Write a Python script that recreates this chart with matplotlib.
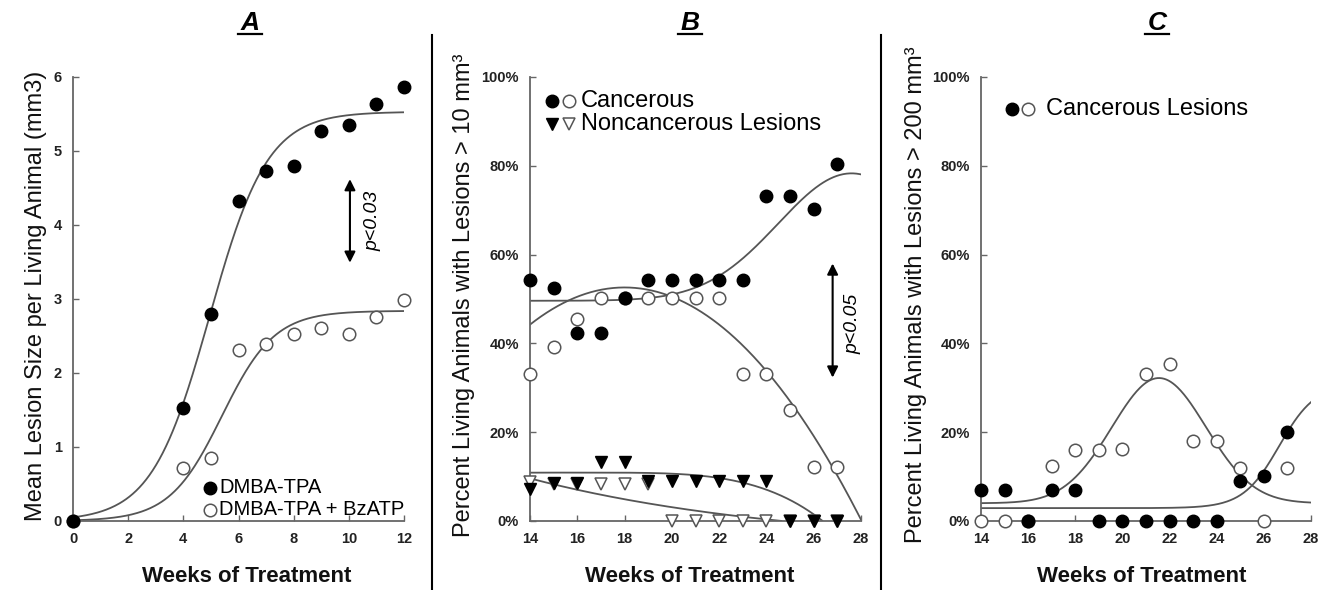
import numpy as np
import matplotlib
matplotlib.use("Agg")
import matplotlib.pyplot as plt
from matplotlib.lines import Line2D

plt.rcParams['font.family'] = ['Liberation Sans', 'DejaVu Sans']

# ---- data ----
# Panel A: mean lesion size per living animal (mm3)
weeks_a = [0, 4, 5, 6, 7, 8, 9, 10, 11, 12]
a_tpa = [0, 1.53, 2.80, 4.33, 4.73, 4.80, 5.27, 5.35, 5.64, 5.86]
a_bzatp = [0, 0.72, 0.85, 2.31, 2.39, 2.53, 2.61, 2.53, 2.76, 2.98]

# Panels B and C: weeks 14-27
weeks_bc = [14, 15, 16, 17, 18, 19, 20, 21, 22, 23, 24, 25, 26, 27]
# B: % living animals with lesions > 10 mm3
b_canc_tpa = [54.3, 52.4, 42.3, 42.3, 50.3, 54.3, 54.3, 54.3, 54.3, 54.3, 73.2, 73.2, 70.2, 80.3]
b_canc_bz = [33.0, 39.1, 45.4, 50.3, 50.3, 50.3, 50.3, 50.3, 50.3, 33.0, 33.0, 24.9, 12.1, 12.1]
b_non_tpa = [7.3, 8.5, 8.5, 13.2, 13.2, 9.1, 9.1, 9.1, 9.1, 9.1, 9.1, 0, 0, 0]
b_non_bz = [8.8, 8.3, 8.3, 8.3, 8.3, 8.3, 0, 0, 0, 0, 0, 0, 0, 0]
# C: % living animals with lesions > 200 mm3
c_canc_tpa = [6.9, 6.9, 0, 6.9, 6.9, 0, 0, 0, 0, 0, 0, 9.1, 10.1, 20.1]
c_canc_bz = [0, 0, 0, 12.5, 16.1, 16.1, 16.3, 33.2, 35.3, 18.1, 18.1, 12.0, 0, 12.0]

a_tpa_fit = dict(top=5.53, mid=4.95, rate=0.95)      # logistic
a_bz_fit = dict(top=2.84, mid=5.40, rate=1.05)       # logistic
b_tpa_fit = dict(base=49.6, amp=28.7, mid=27.6, sd=3.1)   # baseline + gaussian
b_bz_fit = dict(peak=52.6, at=18.0, curv=0.523)      # parabola
b_non_tpa_fit = dict(top=10.9, at=16.0, k=0.00094)   # quartic drop
b_non_bz_fit = dict(a=15.56, k=0.09, c=-5.96)        # exp decay
c_bz_fit = dict(base=4.0, amp=28.2, mid=21.55, sd=2.0)
c_tpa_fit = dict(base=2.9, top=28.0, mid=26.65, rate=1.3)

W, H = 1327, 590
fig = plt.figure(figsize=(W / 100, H / 100), dpi=100)

def px_axes(x0, x1, y_top, y_bot):
    return fig.add_axes([x0 / W, 1 - y_bot / H, (x1 - x0) / W, (y_bot - y_top) / H])

def ftext(x, y, s, **kw):
    fig.text(x / W, 1 - y / H, s, **kw)

ax_a = px_axes(73, 404, 77, 521)
ax_b = px_axes(530, 861, 77, 521)
ax_c = px_axes(981, 1311, 77, 521)

spine_col = '#666666'
line_col = '#555555'
tick_font = dict(fontweight='bold', fontsize=10.5, color='#222222')

for ax in (ax_a, ax_b, ax_c):
    for s in ('top', 'right'):
        ax.spines[s].set_visible(False)
    for s in ('left', 'bottom'):
        ax.spines[s].set_color(spine_col)
        ax.spines[s].set_linewidth(1.3)
    ax.tick_params(direction='in', length=4, width=1, color=spine_col, pad=8)

ax_a.set_xlim(0, 12)
ax_a.set_ylim(0, 6)
ax_a.set_xticks(range(0, 13, 2), labels=[str(v) for v in range(0, 13, 2)], **tick_font)
ax_a.set_yticks(range(0, 7), labels=[str(v) for v in range(0, 7)], **tick_font)
for ax in (ax_b, ax_c):
    ax.set_xlim(14, 28)
    ax.set_ylim(0, 100)
    ax.set_xticks(range(14, 29, 2), labels=[str(v) for v in range(14, 29, 2)], **tick_font)
    ax.set_yticks(range(0, 101, 20), labels=[f'{v}%' for v in range(0, 101, 20)], **tick_font)

ms = 9
open_c = dict(marker='o', ms=ms, mfc='white', mec=line_col, mew=1.1, ls='none', clip_on=False, zorder=3)
fill_c = dict(marker='o', ms=ms, mfc='black', mec='black', ls='none', clip_on=False, zorder=4)
open_t = dict(marker='v', ms=8.5, mfc='white', mec=line_col, mew=1.1, ls='none', clip_on=False, zorder=3)
fill_t = dict(marker='v', ms=8.5, mfc='black', mec='black', ls='none', clip_on=False, zorder=4)
fit_kw = dict(color=line_col, lw=1.3, zorder=2)
arrow_kw = dict(arrowstyle='<|-|>', color='black', lw=1.5, mutation_scale=16, shrinkA=0, shrinkB=0)

def logistic(x, p):
    return p['top'] / (1 + np.exp(-p['rate'] * (x - p['mid'])))

# ---- Panel A ----
xa = np.linspace(0, 12, 300)
ax_a.plot(xa, logistic(xa, a_tpa_fit), **fit_kw)
ax_a.plot(xa, logistic(xa, a_bz_fit), **fit_kw)
ax_a.plot(weeks_a, a_bzatp, **open_c)
ax_a.plot(weeks_a, a_tpa, **fill_c)
ax_a.annotate('', xy=(10.04, 4.62), xytext=(10.04, 3.49), arrowprops=arrow_kw)
ax_a.text(10.88, 4.05, 'p<0.03', rotation=90, fontstyle='italic', fontsize=14,
          ha='center', va='center')
ax_a.plot([4.97], [0.446], **fill_c)
ax_a.plot([4.97], [0.151], **open_c)
ax_a.text(5.30, 0.446, 'DMBA-TPA', fontsize=14.5, va='center')
ax_a.text(5.30, 0.151, 'DMBA-TPA + BzATP', fontsize=14.5, va='center')

# ---- Panel B ----
xb = np.linspace(14, 28, 300)
p = b_tpa_fit
ax_b.plot(xb, p['base'] + p['amp'] * np.exp(-(xb - p['mid']) ** 2 / (2 * p['sd'] ** 2)), **fit_kw)
p = b_bz_fit
ax_b.plot(xb, p['peak'] - p['curv'] * (xb - p['at']) ** 2, **fit_kw)
p = b_non_tpa_fit
yb = p['top'] - p['k'] * (xb - p['at']) ** 4
ax_b.plot(xb[yb >= 0], yb[yb >= 0], **fit_kw)
p = b_non_bz_fit
yb = p['a'] * np.exp(-p['k'] * (xb - 14)) + p['c']
ax_b.plot(xb[yb >= 0], yb[yb >= 0], **fit_kw)
ax_b.plot(weeks_bc, b_non_bz, **open_t)
ax_b.plot(weeks_bc, b_non_tpa, **fill_t)
ax_b.plot(weeks_bc, b_canc_bz, **open_c)
ax_b.plot(weeks_bc, b_canc_tpa, **fill_c)
ax_b.annotate('', xy=(26.8, 58.0), xytext=(26.8, 32.3), arrowprops=arrow_kw)
ax_b.text(27.68, 44.5, 'p<0.05', rotation=90, fontstyle='italic', fontsize=14,
          ha='center', va='center')
ax_b.plot([14.94], [94.7], **fill_c)
ax_b.plot([15.66], [94.7], **open_c)
ax_b.plot([14.94], [89.5], **fill_t)
ax_b.plot([15.66], [89.5], **open_t)
ax_b.text(16.15, 94.7, 'Cancerous', fontsize=17, va='center')
ax_b.text(16.15, 89.5, 'Noncancerous Lesions', fontsize=17, va='center')

# ---- Panel C ----
xc = np.linspace(14, 28, 300)
p = c_bz_fit
ax_c.plot(xc, p['base'] + p['amp'] * np.exp(-(xc - p['mid']) ** 2 / (2 * p['sd'] ** 2)), **fit_kw)
p = c_tpa_fit
ax_c.plot(xc, p['base'] + logistic(xc, p), **fit_kw)
ax_c.plot(weeks_bc, c_canc_bz, **open_c)
ax_c.plot(weeks_bc, c_canc_tpa, **fill_c)
ax_c.plot([15.30], [92.8], **fill_c)
ax_c.plot([16.0], [92.8], **open_c)
ax_c.text(16.75, 92.8, 'Cancerous Lesions', fontsize=17, va='center')

# ---- labels, titles, separators ----
lab = dict(fontsize=17, color='#111111', ha='center', va='center')
ftext(36, 296, 'Mean Lesion Size per Living Animal (mm3)', rotation=90, **lab)
ftext(464, 295, 'Percent Living Animals with Lesions > 10 mm³', rotation=90, **lab)
ftext(916, 295, 'Percent Living Animals with Lesions > 200 mm³', rotation=90, **lab)
for x in (247, 690, 1142):
    ftext(x, 577, 'Weeks of Treatment', fontsize=16, fontweight='bold',
          color='#111111', ha='center', va='center')

for x, t in ((250, 'A'), (690, 'B'), (1157, 'C')):
    ftext(x, 30, t, fontsize=19, fontweight='bold', fontstyle='italic',
          ha='center', va='baseline')
    fig.add_artist(Line2D([(x - 12) / W, (x + 12) / W], [1 - 33.5 / H] * 2,
                          color='black', lw=1.6))

for x in (432, 881):
    fig.add_artist(Line2D([x / W, x / W], [1 - 35 / H, 0], color='black', lw=1.5))

fig.savefig('out.png', dpi=100)
